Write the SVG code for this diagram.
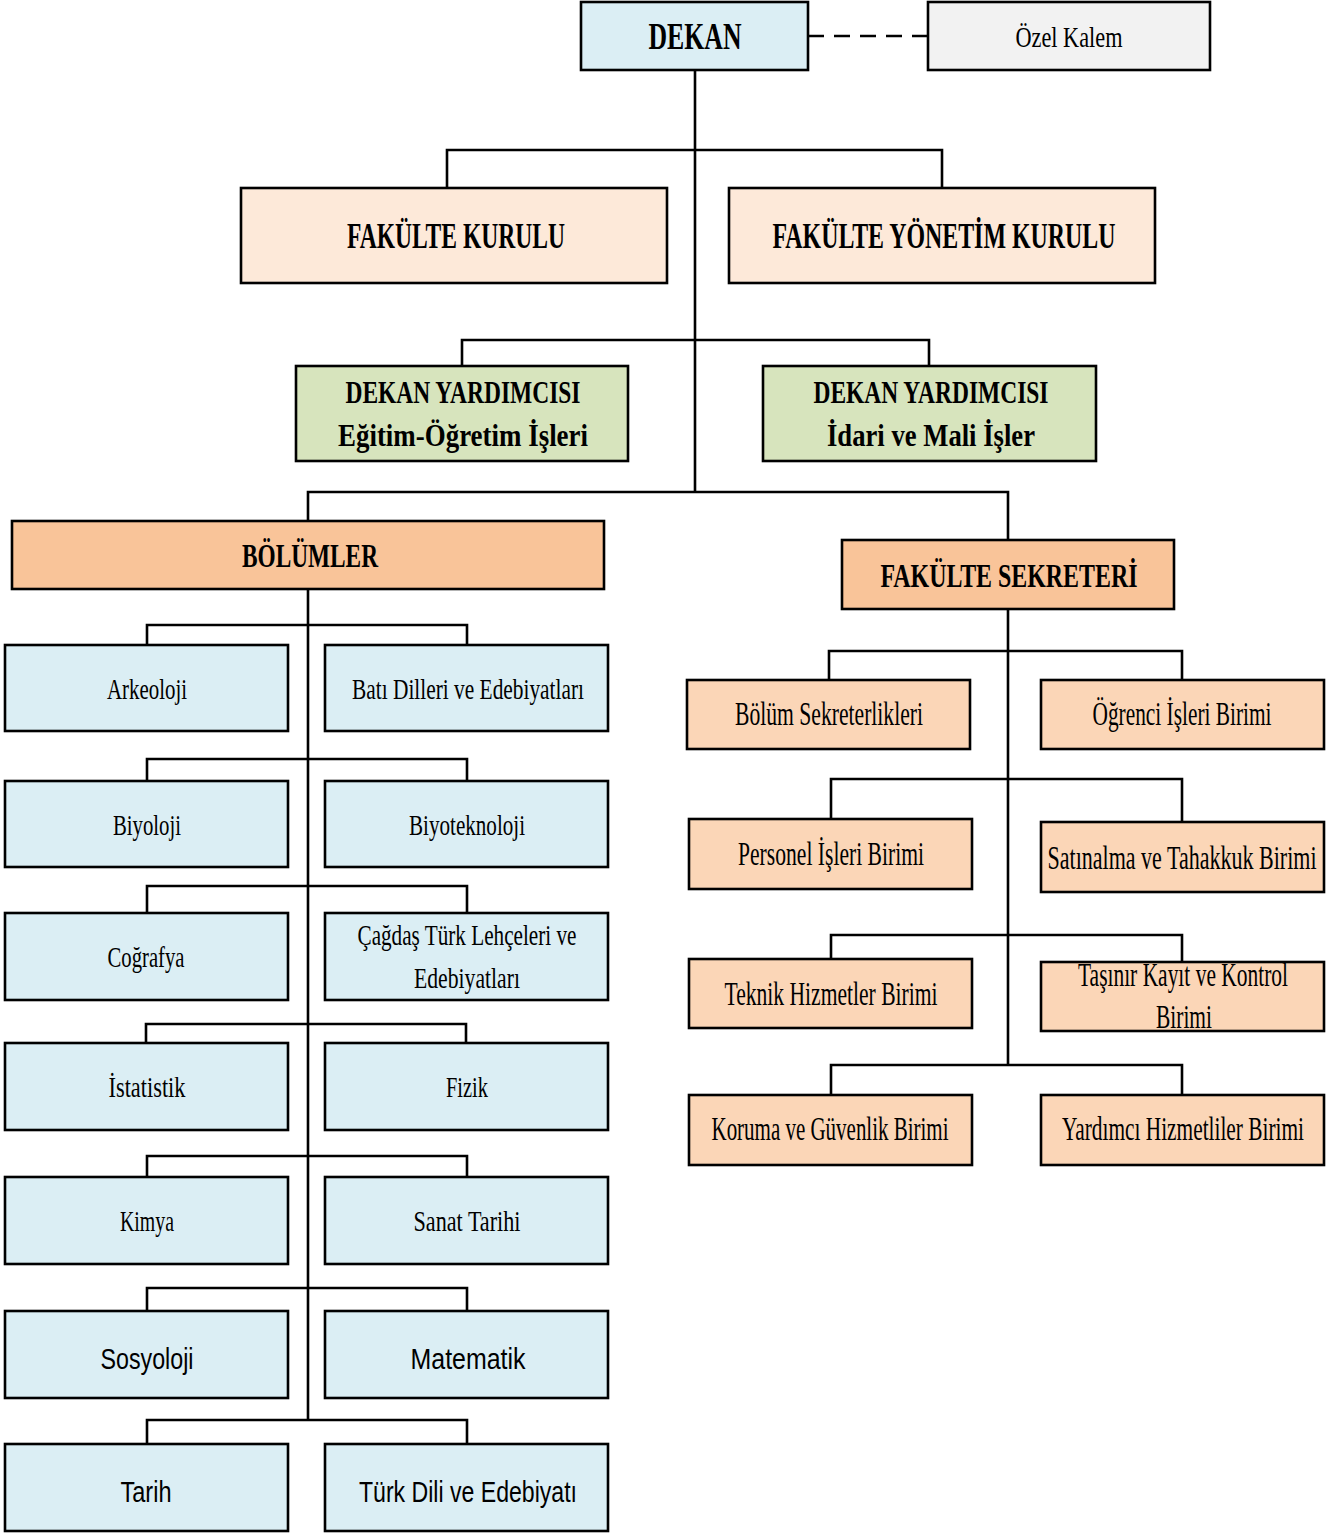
<svg xmlns="http://www.w3.org/2000/svg" width="1338" height="1533" viewBox="0 0 1338 1533">
<style>
  .box { stroke: #000; stroke-width: 2.6; }
  .blue { fill: #DBEEF4; }
  .grey { fill: #F2F2F2; }
  .pale { fill: #FDE9D9; }
  .green { fill: #D7E4BD; }
  .orange { fill: #F9C499; }
  .peach { fill: #FBD6B7; }
  .conn { fill: none; stroke: #000; stroke-width: 2.6; }
  text { font-family: "Liberation Serif", "DejaVu Serif", serif; fill: #000; text-anchor: middle; }
  .b { font-weight: bold; }
  .d { font-size: 30px; }
  .u { font-size: 33px; }
  .sans { font-family: "Liberation Sans", "DejaVu Sans", sans-serif; }
</style>
<rect width="1338" height="1533" fill="#fff"/>
<g id="connectors">
  <line class="conn" x1="808" y1="36" x2="928" y2="36" stroke-dasharray="16,10"/>
  <line class="conn" x1="695" y1="70" x2="695" y2="492"/>
  <path class="conn" d="M447 188 V150 H942 V188"/>
  <path class="conn" d="M462 366 V340 H929 V366"/>
  <path class="conn" d="M308 521 V492 H1008 V540"/>
  <line class="conn" x1="308" y1="589" x2="308" y2="1420"/>
  <path class="conn" d="M147 645 V625 H467 V645"/>
  <path class="conn" d="M147 781 V759 H467 V781"/>
  <path class="conn" d="M147 913 V886 H467 V913"/>
  <path class="conn" d="M146 1043 V1024 H466 V1043"/>
  <path class="conn" d="M147 1177 V1156 H467 V1177"/>
  <path class="conn" d="M147 1311 V1288 H467 V1311"/>
  <path class="conn" d="M147 1444 V1420 H467 V1444"/>
  <line class="conn" x1="1008" y1="609" x2="1008" y2="1065"/>
  <path class="conn" d="M829 680 V651 H1182 V680"/>
  <path class="conn" d="M831 819 V779 H1182 V822"/>
  <path class="conn" d="M831 959 V935 H1182 V962"/>
  <path class="conn" d="M831 1095 V1065 H1182 V1095"/>
</g>
<g id="dekan">
  <rect class="box blue" x="581" y="2" width="227" height="68"/>
  <text class="b" x="695" y="49" font-size="38" textLength="93" lengthAdjust="spacingAndGlyphs">DEKAN</text>
</g>
<g id="ozel-kalem">
  <rect class="box grey" x="928" y="2" width="282" height="68"/>
  <text x="1069" y="47" font-size="30" textLength="107" lengthAdjust="spacingAndGlyphs">Özel Kalem</text>
</g>
<g id="fakulte-kurulu">
  <rect class="box pale" x="241" y="188" width="426" height="95"/>
  <text class="b" x="456" y="248" font-size="35" textLength="218" lengthAdjust="spacingAndGlyphs">FAKÜLTE KURULU</text>
</g>
<g id="fakulte-yonetim-kurulu">
  <rect class="box pale" x="729" y="188" width="426" height="95"/>
  <text class="b" x="944" y="248" font-size="35" textLength="343" lengthAdjust="spacingAndGlyphs">FAKÜLTE  YÖNETİM KURULU</text>
</g>
<g id="dekan-yardimcisi-egitim">
  <rect class="box green" x="296" y="366" width="332" height="95"/>
  <text class="b" x="463" y="403" font-size="31" textLength="235" lengthAdjust="spacingAndGlyphs">DEKAN YARDIMCISI</text>
  <text class="b" x="463" y="446" font-size="31" textLength="250" lengthAdjust="spacingAndGlyphs">Eğitim-Öğretim İşleri</text>
</g>
<g id="dekan-yardimcisi-idari">
  <rect class="box green" x="763" y="366" width="333" height="95"/>
  <text class="b" x="931" y="403" font-size="31" textLength="235" lengthAdjust="spacingAndGlyphs">DEKAN YARDIMCISI</text>
  <text class="b" x="931" y="446" font-size="31" textLength="208" lengthAdjust="spacingAndGlyphs">İdari ve Mali İşler</text>
</g>
<g id="bolumler">
  <rect class="box orange" x="12" y="521" width="592" height="68"/>
  <text class="b" x="310" y="567" font-size="34" textLength="136" lengthAdjust="spacingAndGlyphs">BÖLÜMLER</text>
</g>
<g id="fakulte-sekreteri">
  <rect class="box orange" x="842" y="540" width="332" height="69"/>
  <text class="b" x="1009" y="587" font-size="34" textLength="257" lengthAdjust="spacingAndGlyphs">FAKÜLTE  SEKRETERİ</text>
</g>
<g id="arkeoloji">
  <rect class="box blue" x="5" y="645" width="283" height="86"/>
  <text class="d" x="147" y="699" textLength="80" lengthAdjust="spacingAndGlyphs">Arkeoloji</text>
</g>
<g id="bati-dilleri">
  <rect class="box blue" x="325" y="645" width="283" height="86"/>
  <text class="d" x="468" y="699" textLength="232" lengthAdjust="spacingAndGlyphs">Batı Dilleri ve Edebiyatları</text>
</g>
<g id="biyoloji">
  <rect class="box blue" x="5" y="781" width="283" height="86"/>
  <text class="d" x="147" y="835" textLength="68" lengthAdjust="spacingAndGlyphs">Biyoloji</text>
</g>
<g id="biyoteknoloji">
  <rect class="box blue" x="325" y="781" width="283" height="86"/>
  <text class="d" x="467" y="835" textLength="116" lengthAdjust="spacingAndGlyphs">Biyoteknoloji</text>
</g>
<g id="cografya">
  <rect class="box blue" x="5" y="913" width="283" height="87"/>
  <text class="d" x="146" y="967" textLength="77" lengthAdjust="spacingAndGlyphs">Coğrafya</text>
</g>
<g id="cagdas-turk">
  <rect class="box blue" x="325" y="913" width="283" height="87"/>
  <text class="d" x="467" y="945" textLength="219" lengthAdjust="spacingAndGlyphs">Çağdaş Türk Lehçeleri ve</text>
  <text class="d" x="467" y="988" textLength="106" lengthAdjust="spacingAndGlyphs">Edebiyatları</text>
</g>
<g id="istatistik">
  <rect class="box blue" x="5" y="1043" width="283" height="87"/>
  <text class="d" x="147" y="1097" textLength="77" lengthAdjust="spacingAndGlyphs">İstatistik</text>
</g>
<g id="fizik">
  <rect class="box blue" x="325" y="1043" width="283" height="87"/>
  <text class="d" x="467" y="1097" textLength="42" lengthAdjust="spacingAndGlyphs">Fizik</text>
</g>
<g id="kimya">
  <rect class="box blue" x="5" y="1177" width="283" height="87"/>
  <text class="d" x="147" y="1231" textLength="54" lengthAdjust="spacingAndGlyphs">Kimya</text>
</g>
<g id="sanat-tarihi">
  <rect class="box blue" x="325" y="1177" width="283" height="87"/>
  <text class="d" x="467" y="1231" textLength="107" lengthAdjust="spacingAndGlyphs">Sanat Tarihi</text>
</g>
<g id="sosyoloji">
  <rect class="box blue" x="5" y="1311" width="283" height="87"/>
  <text class="sans" x="147" y="1369" font-size="30" textLength="93" lengthAdjust="spacingAndGlyphs">Sosyoloji</text>
</g>
<g id="matematik">
  <rect class="box blue" x="325" y="1311" width="283" height="87"/>
  <text class="sans" x="468" y="1369" font-size="30" textLength="115" lengthAdjust="spacingAndGlyphs">Matematik</text>
</g>
<g id="tarih">
  <rect class="box blue" x="5" y="1444" width="283" height="87"/>
  <text class="sans" x="146" y="1502" font-size="30" textLength="51" lengthAdjust="spacingAndGlyphs">Tarih</text>
</g>
<g id="turk-dili">
  <rect class="box blue" x="325" y="1444" width="283" height="87"/>
  <text class="sans" x="468" y="1502" font-size="30" textLength="218" lengthAdjust="spacingAndGlyphs">Türk Dili ve Edebiyatı</text>
</g>
<g id="bolum-sekreterlikleri">
  <rect class="box peach" x="687" y="680" width="283" height="69"/>
  <text class="u" x="829" y="725" textLength="188" lengthAdjust="spacingAndGlyphs">Bölüm Sekreterlikleri</text>
</g>
<g id="ogrenci-isleri">
  <rect class="box peach" x="1041" y="680" width="283" height="69"/>
  <text class="u" x="1182" y="725" textLength="179" lengthAdjust="spacingAndGlyphs">Öğrenci İşleri Birimi</text>
</g>
<g id="personel-isleri">
  <rect class="box peach" x="689" y="819" width="283" height="70"/>
  <text class="u" x="831" y="865" textLength="186" lengthAdjust="spacingAndGlyphs">Personel İşleri Birimi</text>
</g>
<g id="satinalma">
  <rect class="box peach" x="1041" y="822" width="283" height="70"/>
  <text class="u" x="1182" y="869" textLength="269" lengthAdjust="spacingAndGlyphs">Satınalma ve Tahakkuk  Birimi</text>
</g>
<g id="teknik-hizmetler">
  <rect class="box peach" x="689" y="959" width="283" height="69"/>
  <text class="u" x="831" y="1005" textLength="213" lengthAdjust="spacingAndGlyphs">Teknik Hizmetler Birimi</text>
</g>
<g id="tasinir-kayit">
  <rect class="box peach" x="1041" y="962" width="283" height="69"/>
  <text class="u" x="1183" y="986" textLength="210" lengthAdjust="spacingAndGlyphs">Taşınır Kayıt ve Kontrol</text>
  <text class="u" x="1184" y="1028" textLength="56" lengthAdjust="spacingAndGlyphs">Birimi</text>
</g>
<g id="koruma-guvenlik">
  <rect class="box peach" x="689" y="1095" width="283" height="70"/>
  <text class="u" x="830" y="1140" textLength="237" lengthAdjust="spacingAndGlyphs">Koruma ve Güvenlik Birimi</text>
</g>
<g id="yardimci-hizmetliler">
  <rect class="box peach" x="1041" y="1095" width="283" height="70"/>
  <text class="u" x="1183" y="1140" textLength="242" lengthAdjust="spacingAndGlyphs">Yardımcı Hizmetliler Birimi</text>
</g>
</svg>
